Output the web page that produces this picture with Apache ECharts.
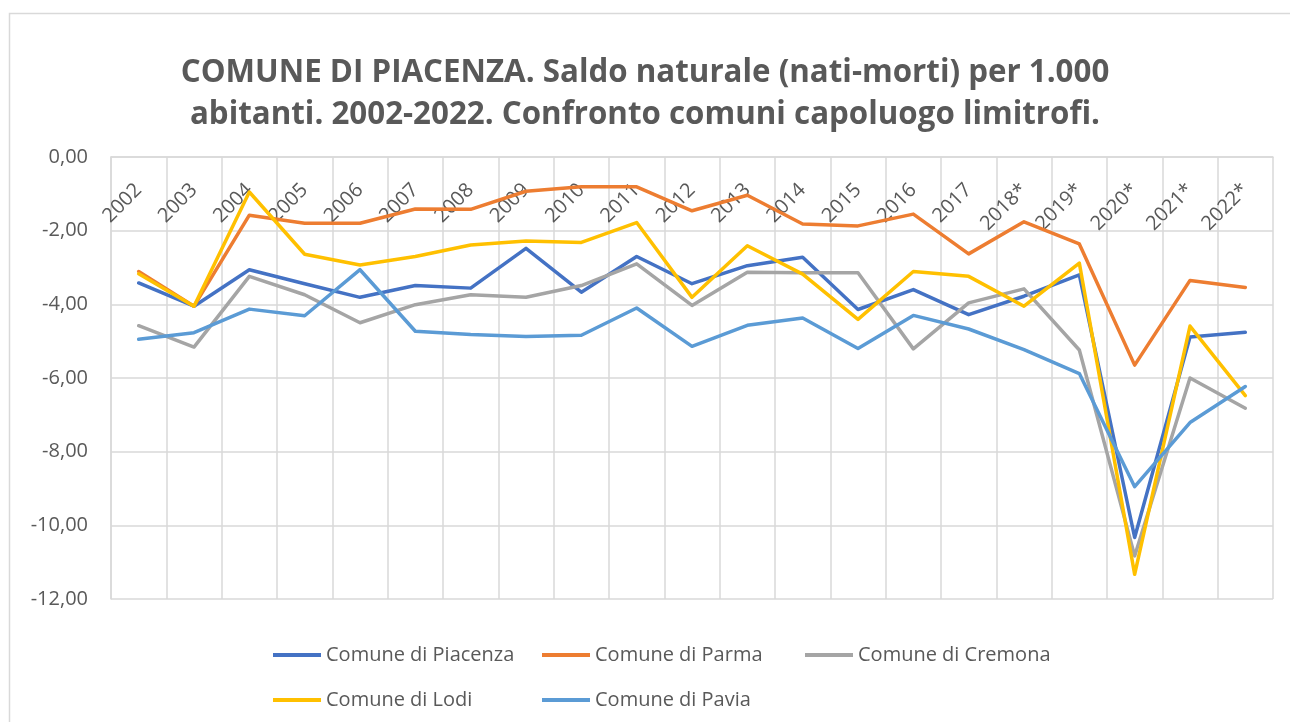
<!DOCTYPE html>
<html>
<head>
<meta charset="utf-8">
<script src="https://cdn.jsdelivr.net/npm/echarts@6/dist/echarts.min.js"></script>
<style>
  html, body { margin: 0; padding: 0; background: #fff; }
  #chart { width: 1290px; height: 722px; }
</style>
</head>
<body>
<div id="chart"></div>
<script>
var years = ['2002', '2003', '2004', '2005', '2006', '2007', '2008', '2009', '2010', '2011', '2012',
  '2013', '2014', '2015', '2016', '2017', '2018*', '2019*', '2020*', '2021*', '2022*'];

var seriesNames = ['Comune di Piacenza', 'Comune di Parma', 'Comune di Cremona', 'Comune di Lodi', 'Comune di Pavia'];

var titleLines = [
  'COMUNE DI PIACENZA. Saldo naturale (nati-morti) per 1.000',
  'abitanti. 2002-2022. Confronto comuni capoluogo limitrofi.'
];

var piacenza = [-3.42, -4.05, -3.06, -3.44, -3.81, -3.49, -3.56, -2.48, -3.67, -2.70, -3.44,
  -2.95, -2.72, -4.14, -3.60, -4.28, -3.78, -3.20, -10.33, -4.89, -4.76];
var parma = [-3.11, -4.05, -1.58, -1.80, -1.80, -1.41, -1.42, -0.93, -0.81, -0.81, -1.46,
  -1.04, -1.82, -1.87, -1.55, -2.63, -1.76, -2.36, -5.65, -3.35, -3.54];
var cremona = [-4.58, -5.16, -3.24, -3.74, -4.50, -4.01, -3.74, -3.81, -3.49, -2.90, -4.03,
  -3.13, -3.14, -3.14, -5.21, -3.96, -3.58, -5.24, -10.83, -6.00, -6.82];
var lodi = [-3.17, -4.05, -0.95, -2.64, -2.93, -2.70, -2.39, -2.28, -2.32, -1.78, -3.81,
  -2.41, -3.18, -4.41, -3.11, -3.24, -4.05, -2.88, -11.33, -4.59, -6.48];
var pavia = [-4.95, -4.77, -4.13, -4.31, -3.06, -4.73, -4.82, -4.87, -4.84, -4.10, -5.14,
  -4.57, -4.37, -5.20, -4.30, -4.67, -5.23, -5.88, -8.95, -7.21, -6.23];

var colors = ['#4472C4', '#ED7D31', '#A5A5A5', '#FFC000', '#5B9BD5'];
var values = [piacenza, parma, cremona, lodi, pavia];

var txt = '#595959';
var grid = '#d9d9d9';
var font = '"Open Sans", "Noto Sans", sans-serif';

// legend slots laid out like the Excel legend (two rows)
var legendPos = [
  { left: 268, top: 640 }, { left: 537, top: 640 }, { left: 800, top: 640 },
  { left: 268, top: 685 }, { left: 537, top: 685 }
];

var chart = echarts.init(document.getElementById('chart'), null, { renderer: 'canvas' });

chart.setOption({
  animation: false,
  backgroundColor: '#fff',
  color: colors,
  title: titleLines.map(function (line, i) {
    return {
      text: line,
      left: 'center',
      top: 58 + i * 42,
      padding: 0,
      textStyle: { fontFamily: font, fontSize: 31.3, fontWeight: 'bold', color: txt }
    };
  }),
  graphic: [{
    type: 'rect',
    shape: { x: 9.5, y: 13.5, width: 1300, height: 720 },
    style: { fill: 'none', stroke: grid, lineWidth: 1.5 },
    silent: true
  }],
  legend: seriesNames.map(function (name, i) {
    return {
      data: [name],
      left: legendPos[i].left,
      top: legendPos[i].top,
      icon: 'rect',
      itemWidth: 48,
      itemHeight: 4,
      itemGap: 6,
      textStyle: { fontFamily: font, fontSize: 20, color: txt }
    };
  }),
  grid: { left: 111, right: 17, top: 157, bottom: 123 },
  xAxis: {
    type: 'category',
    position: 'top',
    data: years,
    boundaryGap: true,
    axisLine: { show: true, lineStyle: { color: grid, width: 1.5 } },
    axisTick: { show: false },
    splitLine: { show: true, lineStyle: { color: grid, width: 1.5 } },
    axisLabel: {
      inside: true,
      rotate: 45,
      margin: 30,
      interval: 0,
      fontFamily: font,
      fontSize: 20,
      color: txt
    }
  },
  yAxis: {
    type: 'value',
    min: -12,
    max: 0,
    interval: 2,
    axisLine: { show: true, lineStyle: { color: grid, width: 1.5 } },
    axisTick: { show: false },
    splitLine: { show: true, lineStyle: { color: grid, width: 1.5 } },
    axisLabel: {
      margin: 23,
      fontFamily: font,
      fontSize: 20,
      color: txt,
      formatter: function (v) { return v.toFixed(2).replace('.', ','); }
    }
  },
  series: seriesNames.map(function (name, i) {
    return {
      name: name,
      type: 'line',
      data: values[i],
      showSymbol: false,
      symbol: 'none',
      lineStyle: { width: 3.5, color: colors[i], cap: 'round', join: 'round' },
      itemStyle: { color: colors[i] }
    };
  })
});
</script>
</body>
</html>
